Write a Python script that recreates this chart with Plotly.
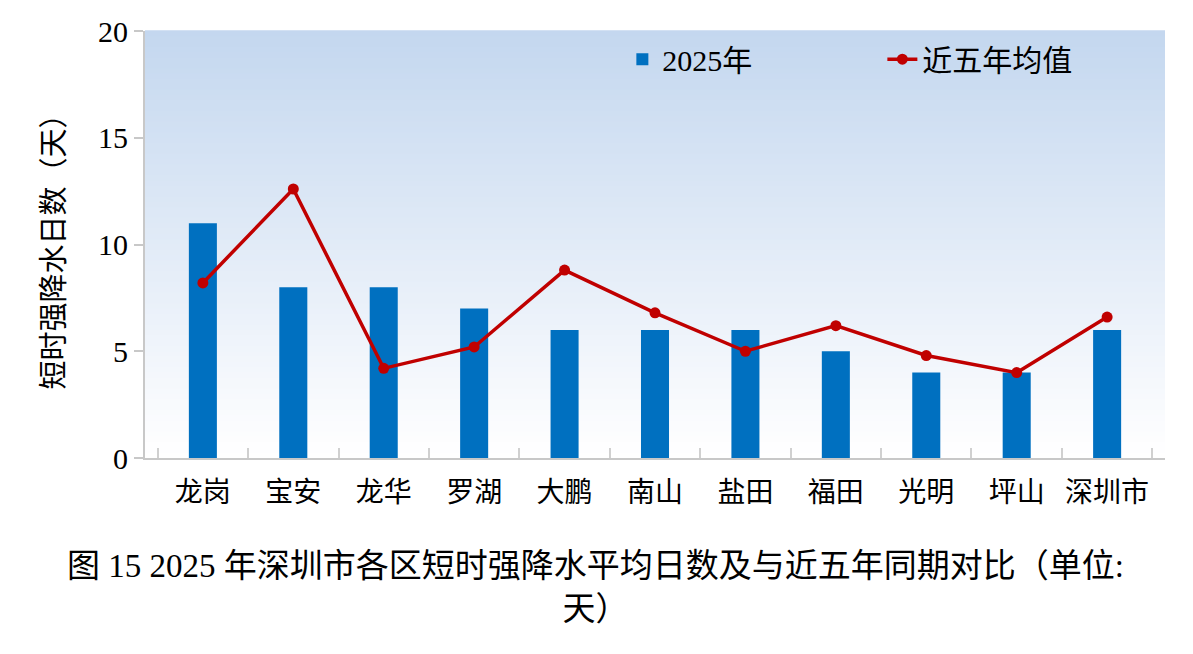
import plotly.graph_objects as go

districts = ["龙岗", "宝安", "龙华", "罗湖", "大鹏", "南山", "盐田", "福田", "光明", "坪山", "深圳市"]
days_2025 = [11, 8, 8, 7, 6, 6, 6, 5, 4, 4, 6]
avg_5yr = [8.2, 12.6, 4.2, 5.2, 8.8, 6.8, 5.0, 6.2, 4.8, 4.0, 6.6]
y_ticks = [0, 5, 10, 15, 20]

FONT = "'Liberation Serif', 'Times New Roman', 'Noto Sans CJK SC', serif"

fig = go.Figure()
fig.add_trace(go.Bar(
    x=districts, y=days_2025, name="2025年",
    marker=dict(color="#0070C0", line=dict(width=0)),
    width=0.31,
))
fig.add_trace(go.Scatter(
    x=districts, y=avg_5yr, name="近五年均值", mode="lines+markers",
    line=dict(color="#C00000", width=3.5),
    marker=dict(color="#C00000", size=11),
))

# vertical gradient background in the plot area
n = 80
top = (196, 215, 239)
bot = (255, 255, 255)
shapes = []
for i in range(n):
    t = i / (n - 1)
    c = tuple(round(bot[k] + (top[k] - bot[k]) * t) for k in range(3))
    shapes.append(dict(
        type="rect", xref="x domain", yref="y domain",
        x0=0, x1=1, y0=i / n, y1=(i + 1) / n + 0.002,
        fillcolor="rgb(%d,%d,%d)" % c, line=dict(width=0), layer="below",
    ))

fig.update_layout(
    width=1193, height=654,
    margin=dict(l=145, r=28, t=31, b=196),
    paper_bgcolor="white", plot_bgcolor="white",
    shapes=shapes,
    font=dict(family=FONT, size=30, color="black"),
    showlegend=True,
    legend=dict(
        orientation="h", x=0.468, y=0.995, xanchor="left", yanchor="top",
        bgcolor="rgba(0,0,0,0)", font=dict(size=30),
        entrywidth=215, entrywidthmode="pixels",
    ),
    xaxis=dict(
        showline=True, linecolor="#c8c8c8", linewidth=2,
        ticks="inside", tickson="boundaries", ticklen=10, tickcolor="#d0d0d0", tickwidth=1.5,
        tickfont=dict(size=28), showgrid=False, ticklabelstandoff=8,
        tickangle=0, automargin=False,
    ),
    yaxis=dict(
        range=[0, 20], tickvals=y_ticks, showline=True, linecolor="#c8c8c8", linewidth=2,
        ticks="outside", ticklen=9, tickcolor="#c8c8c8", tickwidth=1.5,
        tickfont=dict(size=30), showgrid=False, zeroline=False, automargin=False,
        title=dict(text="短时强降水日数（天）", font=dict(size=29), standoff=25),
    ),
    annotations=[dict(
        text="图 15 2025 年深圳市各区短时强降水平均日数及与近五年同期对比（单位:<br>天）",
        xref="paper", yref="paper", x=0.442, y=-0.205, xanchor="center", yanchor="top",
        showarrow=False, font=dict(size=33), align="center",
    )],
)

fig.write_html("out.html")
